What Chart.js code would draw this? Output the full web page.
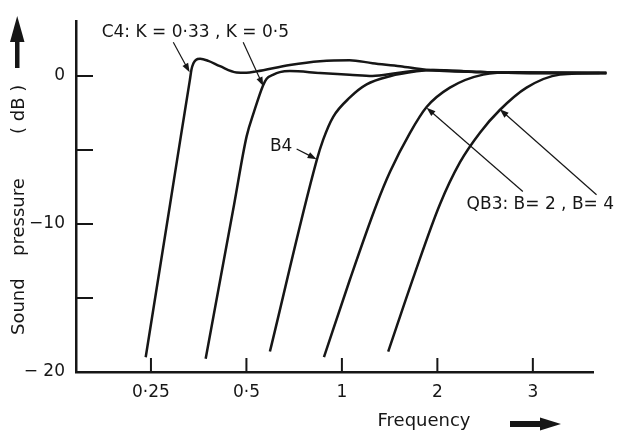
<!DOCTYPE html>
<html>
<head>
<meta charset="utf-8">
<script src="https://cdn.jsdelivr.net/npm/chart.js@4.4.1/dist/chart.umd.min.js"></script>
<style>
  html, body { margin: 0; padding: 0; background: #fff; }
  canvas { display: block; }
</style>
</head>
<body>
<canvas id="chart" width="621" height="431"></canvas>
<script>
// x is measured in axis steps: 0 = 0·25, 1 = 0·5, 2 = 1, 3 = 2, 4 = 3
const freqTicks = [0, 1, 2, 3, 4];
const freqLabels = ['0·25', '0·5', '1', '2', '3'];
const dbTicks = [-20, -15, -10, -5, 0];
const dbLabels = ['− 20', '', '−10', '', '0'];

// C4, K = 0.33
const c4k033X = [-0.055, 0.200, 0.313, 0.407, 0.425, 0.445, 0.47, 0.515, 0.60, 0.723, 0.897, 1.0, 1.105, 1.455, 1.77, 2.08, 2.32, 2.61, 2.89, 3.45, 3.97, 4.77];
const c4k033Y = [-19.0, -8.68, -4.08, -0.3, 0.45, 0.86, 1.08, 1.16, 1.02, 0.66, 0.24, 0.22, 0.31, 0.74, 1.0, 1.07, 0.86, 0.66, 0.41, 0.26, 0.2, 0.2];
// C4, K = 0.5
const c4k05X = [0.573, 0.871, 1.002, 1.079, 1.173, 1.21, 1.277, 1.35, 1.455, 1.77, 2.08, 2.32, 2.58, 2.89, 3.45, 3.97, 4.77];
const c4k05Y = [-19.1, -8.68, -4.08, -2.43, -0.66, -0.2, 0.07, 0.26, 0.33, 0.2, 0.09, 0.0, 0.2, 0.41, 0.26, 0.2, 0.2];
// B4
const b4X = [1.246, 1.735, 1.804, 1.909, 2.084, 2.259, 2.503, 2.782, 2.953, 3.45, 3.97, 4.77];
const b4Y = [-18.62, -5.72, -4.3, -2.76, -1.45, -0.57, -0.02, 0.31, 0.41, 0.26, 0.2, 0.2];
// QB3, B = 2
const qb3b2X = [1.812, 2.084, 2.363, 2.503, 2.712, 2.887, 3.131, 3.48, 3.83, 4.77];
const qb3b2Y = [-18.99, -13.75, -8.68, -6.49, -3.86, -2.1, -0.79, 0.09, 0.25, 0.2];
// QB3, B = 4
const qb3b4X = [2.485, 2.76, 3.026, 3.236, 3.45, 3.654, 3.934, 4.283, 4.70, 4.77];
const qb3b4Y = [-18.62, -13.4, -8.68, -5.84, -3.8, -2.3, -0.79, 0.09, 0.2, 0.2];

const ink = '#161616';
const font = '"DejaVu Sans", "Liberation Sans", sans-serif';

const toPoints = (xs, ys) => xs.map((x, i) => ({ x: x, y: ys[i] }));

const curve = (label, xs, ys) => ({
    label: label,
    data: toPoints(xs, ys),
    borderColor: ink,
    borderWidth: 2.5,
    pointRadius: 0,
    fill: false,
    cubicInterpolationMode: 'monotone',
    clip: false
});

// annotation text and pointer arrows, placed in data units
const notes = [
    { text: 'C4: K = 0·33 , K = 0·5', x: -0.516, y: 2.94 },
    { text: 'B4', x: 1.246, y: -4.74 },
    { text: 'QB3: B= 2 , B= 4', x: 3.306, y: -8.68 }
];
const pointers = [
    { from: [0.234, 2.28], to: [0.405, 0.25] },
    { from: [0.966, 2.28], to: [1.176, -0.68] },
    { from: [1.526, -4.93], to: [1.735, -5.62] },
    { from: [3.895, -7.81], to: [2.887, -2.15] },
    { from: [4.667, -8.03], to: [3.654, -2.25] }
];

function arrow(ctx, x1, y1, x2, y2, len, half) {
    const a = Math.atan2(y2 - y1, x2 - x1);
    ctx.beginPath();
    ctx.moveTo(x1, y1);
    ctx.lineTo(x2 - Math.cos(a) * len * 0.8, y2 - Math.sin(a) * len * 0.8);
    ctx.stroke();
    ctx.beginPath();
    ctx.moveTo(x2, y2);
    ctx.lineTo(x2 - Math.cos(a) * len - Math.sin(a) * half, y2 - Math.sin(a) * len + Math.cos(a) * half);
    ctx.lineTo(x2 - Math.cos(a) * len + Math.sin(a) * half, y2 - Math.sin(a) * len - Math.cos(a) * half);
    ctx.closePath();
    ctx.fill();
}

const decor = {
    id: 'decor',
    beforeDraw(chart) {
        const ctx = chart.ctx;
        ctx.save();
        ctx.fillStyle = '#fff';
        ctx.fillRect(0, 0, chart.width, chart.height);
        ctx.restore();
    },
    afterDraw(chart) {
        const ctx = chart.ctx;
        const xs = chart.scales.x;
        const ys = chart.scales.y;
        const area = chart.chartArea;
        ctx.save();
        ctx.strokeStyle = ink;
        ctx.fillStyle = ink;

        // inward tick marks
        ctx.lineWidth = 2;
        ctx.beginPath();
        dbTicks.forEach(v => {
            const py = ys.getPixelForValue(v);
            if (v === -20) return;
            ctx.moveTo(area.left, py);
            ctx.lineTo(area.left + 17, py);
        });
        freqTicks.forEach(v => {
            const px = xs.getPixelForValue(v);
            ctx.moveTo(px, area.bottom);
            ctx.lineTo(px, area.bottom - 14);
        });
        ctx.stroke();

        // pointers
        ctx.lineWidth = 1.2;
        pointers.forEach(p => {
            arrow(ctx,
                xs.getPixelForValue(p.from[0]), ys.getPixelForValue(p.from[1]),
                xs.getPixelForValue(p.to[0]), ys.getPixelForValue(p.to[1]), 9, 3.2);
        });

        // notes
        ctx.font = '17px ' + font;
        ctx.textAlign = 'left';
        ctx.textBaseline = 'middle';
        notes.forEach(n => {
            ctx.fillText(n.text, xs.getPixelForValue(n.x), ys.getPixelForValue(n.y));
        });

        // axis titles
        ctx.font = '18px ' + font;
        ctx.textAlign = 'center';
        ctx.fillText('Frequency', 424, 421);
        ctx.save();
        ctx.translate(19, 0);
        ctx.rotate(-Math.PI / 2);
        ctx.textAlign = 'left';
        ctx.fillText('Sound', -335, 0);
        ctx.fillText('pressure', -256, 0);
        ctx.fillText('( dB )', -134, 0);
        ctx.restore();

        // big direction arrows
        ctx.fillRect(15, 40, 4.5, 28);
        ctx.beginPath();
        ctx.moveTo(17.2, 16);
        ctx.lineTo(10, 42);
        ctx.lineTo(24.5, 42);
        ctx.closePath();
        ctx.fill();

        ctx.fillRect(510, 421, 32, 6);
        ctx.beginPath();
        ctx.moveTo(561, 424);
        ctx.lineTo(540, 417.5);
        ctx.lineTo(540, 430.5);
        ctx.closePath();
        ctx.fill();

        ctx.restore();
    }
};

new Chart(document.getElementById('chart'), {
    type: 'line',
    data: {
        datasets: [
            curve('C4 K=0.33', c4k033X, c4k033Y),
            curve('C4 K=0.5', c4k05X, c4k05Y),
            curve('B4', b4X, b4Y),
            curve('QB3 B=2', qb3b2X, qb3b2Y),
            curve('QB3 B=4', qb3b4X, qb3b4Y)
        ]
    },
    options: {
        responsive: false,
        animation: false,
        devicePixelRatio: 1,
        layout: { padding: { top: 12, right: 28, left: 0, bottom: 0 } },
        plugins: {
            legend: { display: false },
            tooltip: { enabled: false }
        },
        scales: {
            x: {
                type: 'linear',
                min: -0.785,
                max: 4.63,
                afterBuildTicks: s => { s.ticks = freqTicks.map(v => ({ value: v })); },
                afterFit: s => { s.height = 59; },
                border: { display: true, color: ink, width: 2.5 },
                grid: { display: false, drawTicks: false, tickLength: 0 },
                ticks: {
                    color: ink,
                    padding: 10,
                    maxRotation: 0,
                    autoSkip: false,
                    font: { size: 17, family: font },
                    callback: v => freqLabels[freqTicks.indexOf(v)]
                }
            },
            y: {
                min: -20,
                max: 3.7,
                afterBuildTicks: s => { s.ticks = dbTicks.map(v => ({ value: v })); },
                afterFit: s => { s.width = 76; },
                border: { display: true, color: ink, width: 2.5 },
                grid: { display: false, drawTicks: false, tickLength: 0 },
                ticks: {
                    color: ink,
                    padding: 11,
                    autoSkip: false,
                    font: { size: 17, family: font },
                    callback: v => dbLabels[dbTicks.indexOf(v)]
                }
            }
        }
    },
    plugins: [decor]
});
</script>
</body>
</html>
